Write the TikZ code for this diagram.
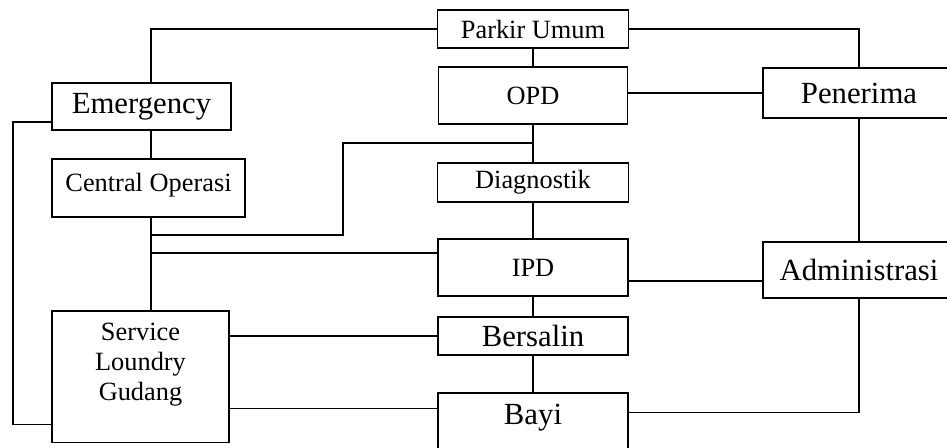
\documentclass[tikz,border=0pt]{standalone}
\usepackage{fontspec}
\setmainfont{Liberation Serif}
\usetikzlibrary{calc}
\tikzset{box/.style={draw, line width=0.9pt, inner sep=0pt, align=center},
%two text sizes of the plan
small/.style={font=\fontsize{15}{17.3}\selectfont},
big/.style={font=\fontsize{17.5}{20}\selectfont}}

\begin{document}
\begin{tikzpicture}[x=0.02cm, y=-0.02cm, line width=0.9pt]

\useasboundingbox (0,0) rectangle (947,448);
\clip (0,0) rectangle (947,448);

% middle column
\node[box, small, minimum width=3.82cm, minimum height=0.76cm] (park) at (533,29) {Parkir Umum};
\node[box, small, minimum width=3.78cm, minimum height=1.14cm] (opd) at (533,95.5) {OPD};
\node[box, small, minimum width=3.82cm, minimum height=0.78cm] (diag) at (533,182.5) {Diagnostik};
\node[box, small, minimum width=3.8cm, minimum height=1.14cm] (ipd) at (533,267.5) {IPD};
\node[box, big, minimum width=3.8cm, minimum height=0.76cm] (bers) at (533,336) {Bersalin};
\node[box, big, minimum width=3.8cm, text height=18.1pt, text depth=17pt] (bayi) at (533,424) {Bayi};

% left column
\node[box, big, minimum width=3.58cm, minimum height=0.94cm] (emer) at (141.5,106.5) {Emergency};
\node[box, small, minimum width=3.86cm, text height=18.6pt, text depth=14.3pt] (cop) at (148.5,188) {Central Operasi};
\node[box, small, minimum width=3.54cm, text height=16.4pt, text depth=58.4pt] (serv) at (140.5,377)
  {\begin{tabular}[t]{@{}c@{}}Service\\Loundry\\Gudang\end{tabular}};

% right column
\node[box, big, minimum width=3.84cm, minimum height=1.0cm] (pen) at (859,93) {Penerima};
\node[box, big, minimum width=3.84cm, minimum height=1.12cm] (adm) at (859,270) {Administrasi};

\coordinate (lcol) at (151,0);
\coordinate (lrail) at (13,250);
\coordinate (mid) at (343,143);
\coordinate (emout) at ($(emer.south west)+(0,-9)$);
\coordinate (svin) at ($(serv.south west)+(0,-19)$);
\coordinate (ipdin) at ($(ipd.north west)+(0,15)$);
\coordinate (bayin) at ($(bayi.north west)+(0,16)$);
\coordinate (admin) at ($(adm.south west)+(0,-18)$);
\coordinate (bayout) at ($(bayi.north east)+(0,20)$);

% left side
\draw (park.west) -| (lcol |- emer.north);
\draw (emout) -| (lrail) |- (svin);
\draw (lcol |- emer.south) -- (lcol |- cop.north);
\draw (lcol |- cop.south) -- (lcol |- serv.north);
\draw (lcol |- 0,235) -| (mid) -- (mid -| opd.south);
\draw (lcol |- ipdin) -- (ipdin);
\draw (serv.east |- bers.west) -- (bers.west);
\draw (serv.east |- bayin) -- (bayin);

% middle
\draw (park.south) -- (opd.north);
\draw (opd.south) -- (diag.north);
\draw (diag.south) -- (ipd.north);
\draw (ipd.south) -- (bers.north);
\draw (bers.south) -- (bayi.north);

% right side
\draw (park.east) -| (pen.north);
\draw (opd.east |- pen.west) -- (pen.west);
\draw (pen.south) -- (adm.north);
\draw (ipd.east |- admin) -- (admin);
\draw (adm.south) |- (bayout);

\end{tikzpicture}
\end{document}
